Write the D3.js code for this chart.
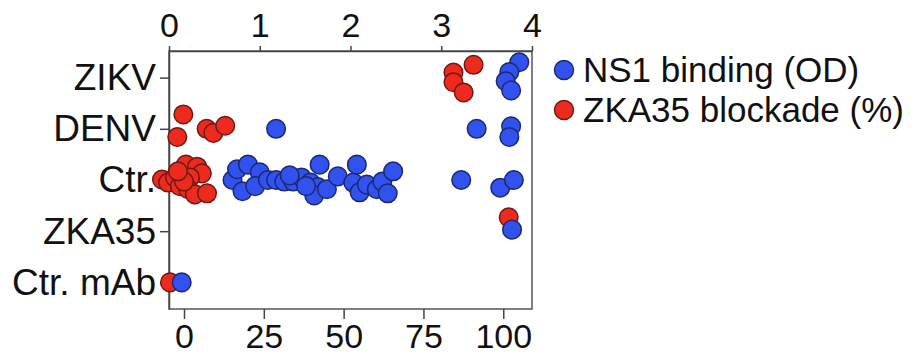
<!DOCTYPE html>
<html lang="en">
<head>
<meta charset="utf-8">
<title>NS1 binding vs ZKA35 blockade</title>
<script src="https://cdn.jsdelivr.net/npm/d3@7"></script>
<style>
  body { margin: 0; background: #fff; }
  svg { display: block; }
  .axis text { font-family: "Liberation Sans", Arial, Helvetica, sans-serif; fill: #111; }
  .axis path, .axis line { stroke: #444; stroke-width: 1.5; }
  .legend text { font-family: "Liberation Sans", Arial, Helvetica, sans-serif; fill: #111; }
</style>
</head>
<body>
<script>
// categories on the y axis (top to bottom)
var categories = ["ZIKV", "DENV", "Ctr.", "ZKA35", "Ctr. mAb"];
var odTicks = [0, 1, 2, 3, 4];
var pctTicks = [0, 25, 50, 75, 100];

// ZKA35 blockade (%) - red; jitter is vertical spread in category units
var redCat = [0, 0, 0, 0,
              1, 1, 1, 1, 1,
              2, 2, 2, 2, 2, 2, 2, 2, 2, 2, 2, 2, 2,
              3, 4];
var redPct = [90.7, 84.4, 84.4, 87.6,
              -0.2, -2.1, 7.1, 9.2, 12.9,
              -6.9, -5.0, -2.8, 0.6, 4.1, 5.6, 1.9, -1.3, 1.3, 3.4, 7.2, 0.0, -1.9,
              101.7, -4.4];
var redJit = [-0.25, -0.10, 0.09, 0.29,
              -0.28, 0.16, 0.00, 0.08, -0.06,
              -0.01, 0.05, -0.05, -0.30, -0.26, -0.13, -0.05, 0.12, 0.18, 0.28, 0.26, 0.03, -0.17,
              -0.27, 0.00];

// NS1 binding (OD) - blue
var blueCat = [0, 0, 0, 0,
               1, 1, 1, 1,
               2, 2, 2, 2, 2, 2, 2, 2, 2, 2, 2, 2, 2, 2, 2, 2, 2, 2, 2, 2, 2, 2, 2, 2, 2, 2, 2, 2, 2, 2,
               3, 4];
var blueOD = [3.86, 3.75, 3.71, 3.77,
              1.18, 3.39, 3.77, 3.75,
              0.70, 0.75, 0.87, 1.00, 0.81, 0.95, 1.09, 1.18, 1.27, 1.37, 1.46, 1.56, 1.66, 1.64, 1.60,
              1.74, 1.86, 2.03, 2.07, 2.10, 2.18, 2.29, 2.35, 2.41, 2.47, 1.33, 1.51, 3.22, 3.65, 3.80,
              3.78, 0.14];
var blueJit = [-0.30, -0.11, 0.07, 0.25,
               0.00, 0.00, -0.05, 0.16,
               0.00, -0.21, -0.30, -0.15, 0.22, 0.12, 0.00, 0.00, 0.03, 0.03, -0.05, 0.05, -0.30, 0.14, 0.30,
               0.18, -0.07, 0.05, -0.30, 0.24, 0.09, 0.18, 0.03, 0.26, -0.17, -0.09, 0.12, 0.00, 0.15, 0.00,
               -0.03, 0.00];

var legendLabels = ["NS1 binding (OD)", "ZKA35 blockade (%)"];

var w = 924, h = 361;
var plotL = 169, plotR = 532, plotT = 51, plotB = 309;
var blue = "#3152ee", blueEdge = "#1c2870";
var red = "#ee2a1f", redEdge = "#6e1a14";
var r = 9.3;

var svg = d3.select("body").append("svg")
    .attr("width", w)
    .attr("height", h);

svg.append("rect").attr("width", w).attr("height", h).attr("fill", "#fff");

var xOD = d3.scaleLinear().domain([0, 4]).range([plotL, plotR]);
var xPct = d3.scaleLinear().domain([-4.7, 109]).range([plotL, plotR]);
var y = d3.scaleLinear().domain([-0.52, 4.52]).range([plotT, plotB]);

// frame
svg.append("rect")
    .attr("x", plotL).attr("y", plotT)
    .attr("width", plotR - plotL).attr("height", plotB - plotT)
    .attr("fill", "none").attr("stroke", "#555").attr("stroke-width", 1.5);

// top axis: OD
var gTop = svg.append("g").attr("class", "axis")
    .attr("transform", "translate(0," + plotT + ")")
    .call(d3.axisTop(xOD).tickValues(odTicks).tickFormat(d3.format("d"))
        .tickSize(5).tickSizeOuter(0).tickPadding(9));
gTop.selectAll("text").attr("font-size", "34px");

// bottom axis: %
var gBot = svg.append("g").attr("class", "axis")
    .attr("transform", "translate(0," + plotB + ")")
    .call(d3.axisBottom(xPct).tickValues(pctTicks).tickSize(10).tickSizeOuter(0).tickPadding(5));
gBot.selectAll("text").attr("font-size", "34px");
gBot.select(".domain").remove();

// left axis: categories
var gLeft = svg.append("g").attr("class", "axis")
    .attr("transform", "translate(" + plotL + ",0)")
    .call(d3.axisLeft(y).tickValues(d3.range(categories.length))
        .tickFormat(function(i) { return categories[i]; })
        .tickSize(9).tickSizeOuter(0).tickPadding(4));
gLeft.selectAll("text").attr("font-size", "37px");

// red points first, blue drawn on top
var redData = redPct.map(function(v, i) { return [v, redCat[i] + redJit[i]]; });
var blueData = blueOD.map(function(v, i) { return [v, blueCat[i] + blueJit[i]]; });

svg.append("g").selectAll("circle")
    .data(redData)
    .enter().append("circle")
    .attr("cx", function(d) { return xPct(d[0]); })
    .attr("cy", function(d) { return y(d[1]); })
    .attr("r", r)
    .attr("fill", red)
    .attr("stroke", redEdge)
    .attr("stroke-width", 1.5);

svg.append("g").selectAll("circle")
    .data(blueData)
    .enter().append("circle")
    .attr("cx", function(d) { return xOD(d[0]); })
    .attr("cy", function(d) { return y(d[1]); })
    .attr("r", r)
    .attr("fill", blue)
    .attr("stroke", blueEdge)
    .attr("stroke-width", 1.5);

// legend
var legend = svg.append("g").attr("class", "legend")
    .attr("transform", "translate(564,70)");
var rows = legend.selectAll("g")
    .data(legendLabels)
    .enter().append("g")
    .attr("transform", function(d, i) { return "translate(0," + i * 40 + ")"; });
rows.append("circle")
    .attr("r", 9.5)
    .attr("fill", function(d, i) { return i === 0 ? blue : red; })
    .attr("stroke", function(d, i) { return i === 0 ? blueEdge : redEdge; })
    .attr("stroke-width", 1.5);
rows.append("text")
    .attr("x", 19)
    .attr("dy", "0.35em")
    .attr("font-size", "35px")
    .text(function(d) { return d; });
</script>
</body>
</html>
